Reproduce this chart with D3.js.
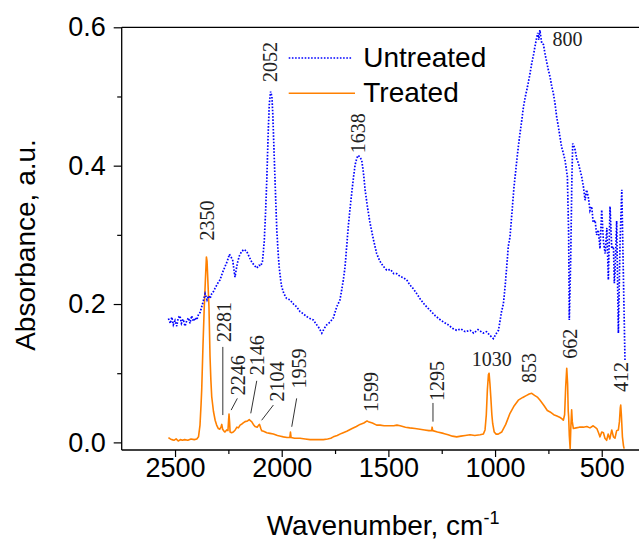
<!DOCTYPE html>
<html><head><meta charset="utf-8">
<script src="https://cdn.jsdelivr.net/npm/d3@7"></script>
<style>body{margin:0;background:#fff}svg{display:block}</style>
</head><body>
<svg id="chart" width="639" height="541"></svg>
<script>
// ---- data ----
const untreatedWn = [2531,2522,2515,2508,2500,2492,2485,2477,2470,2462,2453,2445,2437,2430,2422,2414,2406,2398,2390,2382,2375,2367,2359,2350,2343,2336,2328,2320,2312,2300,2289,2278,2266,2255,2245,2238,2230,2224,2219,2213,2208,2198,2188,2176,2164,2152,2141,2129,2117,2106,2098,2090,2082,2076,2070,2066,2063,2058,2052,2046,2042,2038,2034,2028,2023,2017,2012,2005,2000,1990,1977,1961,1945,1930,1914,1899,1884,1867,1852,1836,1824,1812,1800,1789,1773,1758,1742,1727,1719,1711,1703,1695,1688,1680,1672,1664,1656,1648,1641,1633,1625,1617,1609,1598,1586,1570,1555,1540,1525,1508,1490,1475,1461,1445,1430,1414,1400,1383,1367,1350,1330,1305,1280,1260,1242,1220,1200,1180,1160,1140,1117,1100,1080,1055,1040,1025,1008,995,984,977,969,961,953,945,938,930,920,911,904,898,890,883,875,867,858,848,838,828,820,813,805,800,795,790,785,781,773,766,758,750,742,734,727,719,711,703,695,688,680,672,666,661,655,652,648,645,640,636,630,625,617,609,601,594,586,578,571,563,555,547,540,531,524,516,508,500,492,484,476,469,461,453,445,441,438,430,422,414,406,401,396,391];
const untreatedAbs = [0.179,0.172,0.181,0.170,0.176,0.168,0.180,0.183,0.172,0.178,0.168,0.176,0.180,0.172,0.183,0.175,0.180,0.177,0.185,0.188,0.196,0.205,0.215,0.206,0.212,0.208,0.215,0.218,0.223,0.230,0.235,0.245,0.254,0.262,0.272,0.268,0.264,0.250,0.239,0.250,0.259,0.270,0.276,0.279,0.276,0.268,0.261,0.256,0.252,0.256,0.255,0.262,0.290,0.330,0.379,0.420,0.451,0.490,0.507,0.500,0.476,0.440,0.403,0.350,0.307,0.275,0.254,0.235,0.225,0.215,0.208,0.206,0.200,0.196,0.189,0.186,0.182,0.179,0.177,0.170,0.165,0.158,0.165,0.170,0.174,0.180,0.196,0.206,0.220,0.235,0.254,0.285,0.312,0.337,0.360,0.382,0.401,0.411,0.415,0.412,0.408,0.390,0.365,0.340,0.317,0.293,0.273,0.262,0.255,0.249,0.250,0.244,0.244,0.240,0.238,0.235,0.228,0.222,0.215,0.207,0.199,0.191,0.183,0.178,0.174,0.170,0.165,0.162,0.164,0.160,0.162,0.158,0.163,0.158,0.160,0.155,0.150,0.157,0.162,0.175,0.190,0.200,0.225,0.255,0.283,0.297,0.335,0.370,0.390,0.408,0.430,0.447,0.465,0.485,0.500,0.514,0.530,0.548,0.560,0.572,0.585,0.592,0.582,0.596,0.585,0.577,0.575,0.562,0.550,0.538,0.528,0.514,0.505,0.490,0.470,0.456,0.440,0.427,0.418,0.408,0.395,0.384,0.300,0.177,0.230,0.274,0.380,0.432,0.428,0.423,0.410,0.403,0.393,0.384,0.370,0.350,0.365,0.355,0.335,0.341,0.318,0.321,0.300,0.307,0.280,0.336,0.290,0.273,0.310,0.235,0.341,0.280,0.283,0.230,0.244,0.320,0.158,0.290,0.365,0.283,0.200,0.119];

const treatedWn = [2531,2522,2515,2505,2495,2485,2475,2465,2455,2440,2425,2410,2398,2390,2383,2378,2375,2369,2363,2357,2353,2350,2347,2341,2336,2332,2328,2320,2312,2305,2297,2290,2284,2281,2277,2270,2266,2258,2252,2249,2247,2244,2242,2235,2227,2218,2210,2203,2195,2185,2172,2160,2152,2146,2141,2133,2125,2115,2108,2104,2098,2094,2085,2070,2055,2039,2020,2005,1992,1975,1962,1959,1956,1940,1914,1890,1867,1840,1820,1805,1785,1770,1758,1740,1720,1695,1670,1650,1633,1615,1600,1594,1575,1555,1539,1520,1500,1475,1460,1445,1420,1400,1375,1352,1330,1310,1297,1295,1292,1270,1242,1220,1200,1180,1160,1140,1117,1095,1070,1055,1047,1041,1036,1031,1028,1024,1020,1015,1011,1004,995,985,969,950,930,910,891,870,852,840,828,815,800,789,770,755,742,725,710,695,686,680,674,669,664,660,657,655,652,648,645,641,638,633,620,605,586,570,555,540,523,515,508,500,492,485,477,470,462,453,445,438,430,422,417,413,411,408,403,398,395];
const treatedAbs = [0.007,0.005,0.004,0.003,0.005,0.002,0.004,0.003,0.004,0.003,0.005,0.004,0.005,0.008,0.025,0.055,0.076,0.140,0.196,0.240,0.268,0.262,0.240,0.196,0.124,0.090,0.066,0.045,0.032,0.025,0.020,0.019,0.023,0.026,0.019,0.016,0.015,0.018,0.017,0.032,0.041,0.028,0.015,0.014,0.015,0.018,0.022,0.021,0.025,0.027,0.030,0.031,0.033,0.031,0.030,0.026,0.023,0.022,0.025,0.026,0.020,0.017,0.016,0.014,0.013,0.012,0.010,0.009,0.008,0.007,0.007,0.015,0.007,0.006,0.006,0.005,0.004,0.004,0.004,0.004,0.005,0.006,0.008,0.010,0.013,0.016,0.020,0.023,0.026,0.028,0.031,0.030,0.028,0.025,0.025,0.024,0.024,0.024,0.025,0.024,0.022,0.021,0.020,0.019,0.018,0.017,0.017,0.022,0.017,0.015,0.013,0.011,0.009,0.008,0.009,0.010,0.011,0.010,0.011,0.012,0.018,0.040,0.076,0.098,0.100,0.085,0.066,0.040,0.027,0.015,0.012,0.012,0.015,0.026,0.042,0.053,0.061,0.065,0.068,0.070,0.071,0.068,0.065,0.061,0.053,0.046,0.044,0.040,0.038,0.036,0.034,0.032,0.040,0.080,0.107,0.085,0.045,0.037,0.010,-0.009,0.020,0.047,0.030,0.020,0.021,0.022,0.022,0.023,0.021,0.024,0.020,0.014,0.008,0.015,0.014,0.006,0.003,0.012,0.005,0.018,0.008,0.006,0.017,0.018,0.030,0.050,0.054,0.040,0.008,-0.005,-0.009];

const xMajorTicks = [2500, 2000, 1500, 1000, 500];
const xMinorTicks = [2250, 1750, 1250, 750];
const yMajorTicks = [0.0, 0.2, 0.4, 0.6];
const yMinorTicks = [0.1, 0.3, 0.5];
const seriesNames = ["Untreated", "Treated"];

// peak labels: wavenumber, absorbance at label foot
const peakLabels = [
  {t:"2350", wn:2351, a:0.292, rot:true},
  {t:"2052", wn:2055, a:0.521, rot:true},
  {t:"1638", wn:1641, a:0.418, rot:true},
  {t:"800",  wn:731,  a:0.573, rot:false, anchor:"start"},
  {t:"2281", wn:2270, a:0.145, rot:true},
  {t:"2246", wn:2205, a:0.068, rot:true},
  {t:"2146", wn:2114, a:0.097, rot:true},
  {t:"2104", wn:2022, a:0.059, rot:true},
  {t:"1959", wn:1919, a:0.078, rot:true},
  {t:"1599", wn:1583, a:0.044, rot:true},
  {t:"1295", wn:1272, a:0.060, rot:true},
  {t:"1030", wn:1015, a:0.110, rot:false, anchor:"middle"},
  {t:"853",  wn:841,  a:0.086, rot:true},
  {t:"662",  wn:648,  a:0.121, rot:true},
  {t:"412",  wn:411,  a:0.073, rot:true}
];
// leader lines: [wn1, a1, wn2, a2]
const leaders = [
  [2276,0.138,2276,0.0395],
  [2208,0.0636,2237,0.0467],
  [2117,0.089,2145,0.042],
  [2039,0.054,2094,0.032],
  [1930,0.0636,1953,0.0226],
  [1291,0.057,1291,0.030]
];

// ---- chart ----
const svg = d3.select("#chart");
const L = 121.7, R = 644.4, T = 27.3, B = 450;
const x = d3.scaleLinear().domain([2750, 300]).range([L, R]);
const y = d3.scaleLinear().domain([-0.011, 0.6]).range([B, T]);

svg.append("defs").append("clipPath").attr("id","clip")
  .append("rect").attr("x",L).attr("y",T).attr("width",R-L).attr("height",B-T);

const tickFont = "'Liberation Sans', Arial, sans-serif";

// x axis
const gx = svg.append("g").attr("transform",`translate(0,${B})`)
  .call(d3.axisBottom(x).tickValues(xMajorTicks).tickSize(7).tickPadding(1).tickFormat(d3.format("d")));
const gxm = svg.append("g").attr("transform",`translate(0,${B})`)
  .call(d3.axisBottom(x).tickValues(xMinorTicks).tickSize(4).tickFormat(""));
// y axis
const gy = svg.append("g").attr("transform",`translate(${L},0)`)
  .call(d3.axisLeft(y).tickValues(yMajorTicks).tickSize(8).tickPadding(8).tickFormat(d3.format(".1f")));
const gym = svg.append("g").attr("transform",`translate(${L},0)`)
  .call(d3.axisLeft(y).tickValues(yMinorTicks).tickSize(4.5).tickFormat(""));

gxm.select(".domain").remove();
gym.select(".domain").remove();
gx.select(".domain").attr("d",`M${L},0H${R}`);
gy.select(".domain").attr("d",`M0,${T}V${B}`);
svg.selectAll(".domain").attr("stroke","#000").attr("stroke-width",1.3);
svg.selectAll(".tick line").attr("stroke","#000").attr("stroke-width",1.2);
svg.selectAll(".tick text").attr("font-family",tickFont).attr("font-size",27).attr("fill","#000");

// top and right frame lines
svg.append("line").attr("x1",L).attr("x2",R).attr("y1",T).attr("y2",T)
  .attr("stroke","#000").attr("stroke-width",1.3);
svg.append("line").attr("x1",R).attr("x2",R).attr("y1",T).attr("y2",B)
  .attr("stroke","#000").attr("stroke-width",1.3);

// lines
const line = d3.line().x(d=>x(d[0])).y(d=>y(d[1]));
const plot = svg.append("g").attr("clip-path","url(#clip)");
plot.append("path").datum(treatedWn.map((w,i)=>[w,treatedAbs[i]]))
  .attr("d",line).attr("fill","none").attr("stroke","#ff8000").attr("stroke-width",1.6)
  .attr("stroke-linejoin","round");
plot.append("path").datum(untreatedWn.map((w,i)=>[w,untreatedAbs[i]]))
  .attr("d",line).attr("fill","none").attr("stroke","#0000ff").attr("stroke-width",1.7)
  .attr("stroke-dasharray","1.6 1.6");

// peak labels
const annFont = "'Liberation Serif', 'Times New Roman', serif";
peakLabels.forEach(p=>{
  const px = x(p.wn), py = y(p.a);
  const t = svg.append("text").text(p.t)
    .attr("font-family",annFont).attr("font-size",20).attr("fill","#222");
  if (p.rot) {
    t.attr("transform",`translate(${px},${py}) rotate(-90)`).attr("dy","0.35em").attr("text-anchor","start");
  } else {
    t.attr("x",px).attr("y",py).attr("text-anchor",p.anchor);
  }
});
leaders.forEach(l=>{
  svg.append("line").attr("x1",x(l[0])).attr("y1",y(l[1])).attr("x2",x(l[2])).attr("y2",y(l[3]))
    .attr("stroke","#333").attr("stroke-width",1);
});

// legend
const legX1 = 288.7, legX2 = 351.7, legTx = 363.3;
svg.append("line").attr("x1",legX1).attr("x2",legX2).attr("y1",58).attr("y2",58)
  .attr("stroke","#0000ff").attr("stroke-width",1.7).attr("stroke-dasharray","1.6 1.6");
svg.append("line").attr("x1",legX1).attr("x2",355).attr("y1",93.3).attr("y2",93.3)
  .attr("stroke","#ff8000").attr("stroke-width",1.6);
svg.append("text").attr("x",legTx).attr("y",66.7).text(seriesNames[0])
  .attr("font-family",tickFont).attr("font-size",28).attr("fill","#000");
svg.append("text").attr("x",legTx).attr("y",101.7).text(seriesNames[1])
  .attr("font-family",tickFont).attr("font-size",28).attr("fill","#000");

// axis titles
const xt = svg.append("text").attr("x",(L+R)/2).attr("y",535).attr("text-anchor","middle")
  .attr("font-family",tickFont).attr("font-size",28).attr("fill","#000");
xt.append("tspan").text("Wavenumber, cm");
xt.append("tspan").text("-1").attr("font-size",18).attr("dy",-11);
svg.append("text").attr("transform",`translate(35,245) rotate(-90)`).attr("text-anchor","middle")
  .attr("font-family",tickFont).attr("font-size",28).attr("fill","#000")
  .text("Absorbance, a.u.");
</script>
</body></html>
